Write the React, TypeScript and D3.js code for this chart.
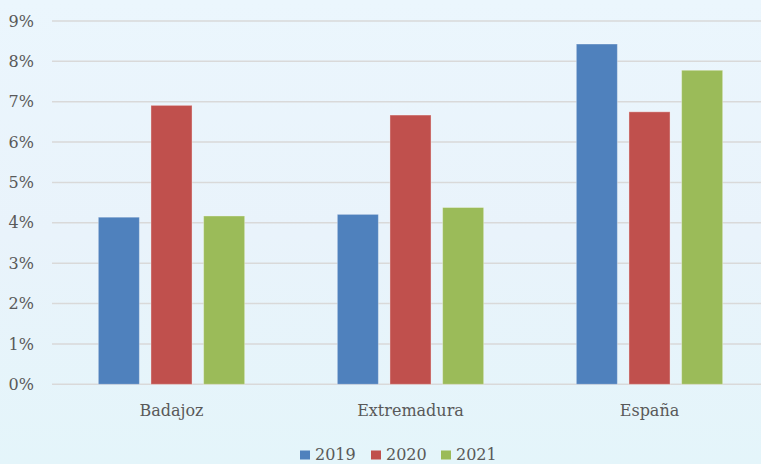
import React from "react";
import * as d3 from "d3";

const categories = ["Badajoz", "Extremadura", "España"];
const seriesNames = ["2019", "2020", "2021"];
const values2019 = [4.14, 4.21, 8.43];
const values2020 = [6.91, 6.67, 6.75];
const values2021 = [4.17, 4.38, 7.78];
const yTicks = [0, 1, 2, 3, 4, 5, 6, 7, 8, 9];
const colors = ["#4F81BD", "#C0504D", "#9BBB59"];

const W = 761;
const H = 464;
const margin = { left: 52, right: -8, top: 21, bottom: 80 };

export default function App() {
  const series = [values2019, values2020, values2021];
  const x = d3
    .scaleBand<string>()
    .domain(categories)
    .range([margin.left, W - margin.right])
    .paddingInner(0)
    .paddingOuter(0);
  const inner = d3
    .scaleBand<string>()
    .domain(seriesNames)
    .range([0, x.bandwidth()])
    .paddingInner(0.22)
    .paddingOuter(0.88);
  const y = d3.scaleLinear().domain([0, 9]).range([384.3, 21]);
  const font = "'DejaVu Serif', serif";
  const fs = 16;
  const legendX = [300, 371, 441];

  return (
    <svg width={W} height={H} style={{ position: "absolute", left: 0, top: 0 }}>
      <defs>
        <linearGradient id="bg" x1="0" y1="0" x2="0" y2="1">
          <stop offset="0" stopColor="#EBF6FD" />
          <stop offset="0.5" stopColor="#E9F3FB" />
          <stop offset="1" stopColor="#E4F5FA" />
        </linearGradient>
      </defs>
      <rect x={0} y={0} width={W} height={H} fill="url(#bg)" />
      {yTicks.map((t) => (
        <g key={t}>
          <line
            x1={margin.left}
            x2={W}
            y1={y(t)}
            y2={y(t)}
            stroke="#D9D9D9"
            strokeWidth={1.5}
          />
          <text
            x={34}
            y={y(t)}
            dy="0.35em"
            textAnchor="end"
            fontFamily={font}
            fontSize={fs}
            fill="#595959"
          >
            {t}%
          </text>
        </g>
      ))}
      {categories.map((c, ci) => (
        <g key={c}>
          {series.map((vals, si) => (
            <rect
              key={si}
              x={(x(c) as number) + (inner(seriesNames[si]) as number)}
              y={y(vals[ci])}
              width={inner.bandwidth()}
              height={y(0) - y(vals[ci])}
              fill={colors[si]}
              stroke="#ffffff"
              strokeOpacity={0.35}
              strokeWidth={1}
            />
          ))}
          <text
            x={(x(c) as number) + x.bandwidth() / 2}
            y={416}
            textAnchor="middle"
            fontFamily={font}
            fontSize={fs}
            fill="#595959"
          >
            {c}
          </text>
        </g>
      ))}
      {seriesNames.map((s, i) => (
        <g key={s}>
          <rect x={legendX[i]} y={450.5} width={10} height={9} fill={colors[i]} />
          <text
            x={legendX[i] + 15}
            y={460}
            fontFamily={font}
            fontSize={fs}
            fill="#595959"
          >
            {s}
          </text>
        </g>
      ))}
    </svg>
  );
}
